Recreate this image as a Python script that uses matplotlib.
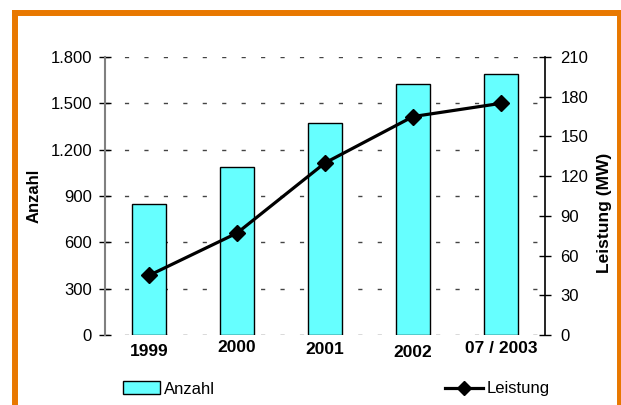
import matplotlib.pyplot as plt
from matplotlib.lines import Line2D
from matplotlib.patches import Patch
from matplotlib.ticker import FuncFormatter

plt.rcParams['font.family'] = ['Liberation Sans', 'DejaVu Sans']

# Anlagen je Jahr und installierte Leistung
jahre = ['1999', '2000', '2001', '2002', '07 / 2003']
anzahl = [850, 1090, 1375, 1625, 1690]
leistung = [45, 77, 130, 165, 175]
label_dy = [-2, 2, 0, -3, 1]   # leicht versetzte Jahresbeschriftungen

BAR = '#66FFFF'
ORANGE = '#E87800'


def tausender(v, pos):
    return '{:,.0f}'.format(v).replace(',', '.')


fig = plt.figure(figsize=(6.21, 4.05), dpi=100)
ax = fig.add_axes([105 / 621, 1 - 335 / 405, 440 / 621, 278 / 405])
ax2 = ax.twinx()

x = [i + 0.5 for i in range(len(jahre))]

ax.bar(x, anzahl, width=0.39, color=BAR, edgecolor='black', linewidth=1.0, zorder=3)
ax.set_xlim(0, len(jahre))
ax.set_ylim(0, 1800)
ax.set_yticks(range(0, 1801, 300))
ax.yaxis.set_major_formatter(FuncFormatter(tausender))
ax.yaxis.grid(True, color='#444444', linewidth=1.0, linestyle=(0, (3, 11)), zorder=0)
ax.set_axisbelow(True)

ax.set_xticks(x)
ax.set_xticklabels(jahre, fontsize=12.5, fontweight='bold')
ax.tick_params(axis='x', length=0, pad=5)
for lab, dy in zip(ax.get_xticklabels(), label_dy):
    lab.set_y(dy / 278)

ax.tick_params(axis='y', direction='inout', length=8, width=1, labelsize=12, colors='black', pad=5.4)
ax.spines['left'].set_color('#808080')
ax.spines['left'].set_linewidth(1.5)
for s in ['top', 'bottom', 'right']:
    ax.spines[s].set_visible(False)
ax.set_ylabel('Anzahl', fontsize=12, fontweight='bold')
ax.yaxis.set_label_coords(-0.145, 0.5)

ax2.plot(x, leistung, color='black', linewidth=2.3, marker='D', markersize=8, zorder=4)
ax2.set_ylim(0, 210)
ax2.set_yticks(range(0, 211, 30))
ax2.tick_params(axis='y', direction='inout', length=8, width=1, labelsize=12, pad=7)
ax2.spines['right'].set_color('black')
ax2.spines['right'].set_linewidth(1.2)
for s in ['top', 'bottom', 'left']:
    ax2.spines[s].set_visible(False)
ax2.set_ylabel('Leistung (MW)', fontsize=12.5, fontweight='bold', rotation=90)
ax2.yaxis.set_label_coords(1.118, 0.44)

# Legende in zwei Teilen
leg_y = 1 - 389 / 405
fig.legend(handles=[Patch(facecolor=BAR, edgecolor='black', linewidth=1.0)], labels=['Anzahl'],
           loc='center left', bbox_to_anchor=(123 / 621, leg_y), frameon=False,
           fontsize=12, handlelength=2.2, handleheight=0.78, handletextpad=0.25,
           borderpad=0, borderaxespad=0)
fig.legend(handles=[Line2D([], [], color='black', linewidth=2.3, marker='D', markersize=7)],
           labels=['Leistung'], loc='center left', bbox_to_anchor=(445 / 621, leg_y),
           frameon=False, fontsize=12, handlelength=2.3, handletextpad=0.2,
           borderpad=0, borderaxespad=0)

# orangefarbener Rahmen (unten offen)
lx, rx, ty = 15 / 621, 619.5 / 621, 1 - 12.7 / 405
rahmen = dict(color=ORANGE, linewidth=4.3, solid_capstyle='projecting')
fig.add_artist(Line2D([lx, lx], [-0.05, ty], **rahmen))
fig.add_artist(Line2D([rx, rx], [-0.05, ty], **rahmen))
fig.add_artist(Line2D([lx, rx], [ty, ty], **rahmen))

fig.savefig('out.png', dpi=100)
